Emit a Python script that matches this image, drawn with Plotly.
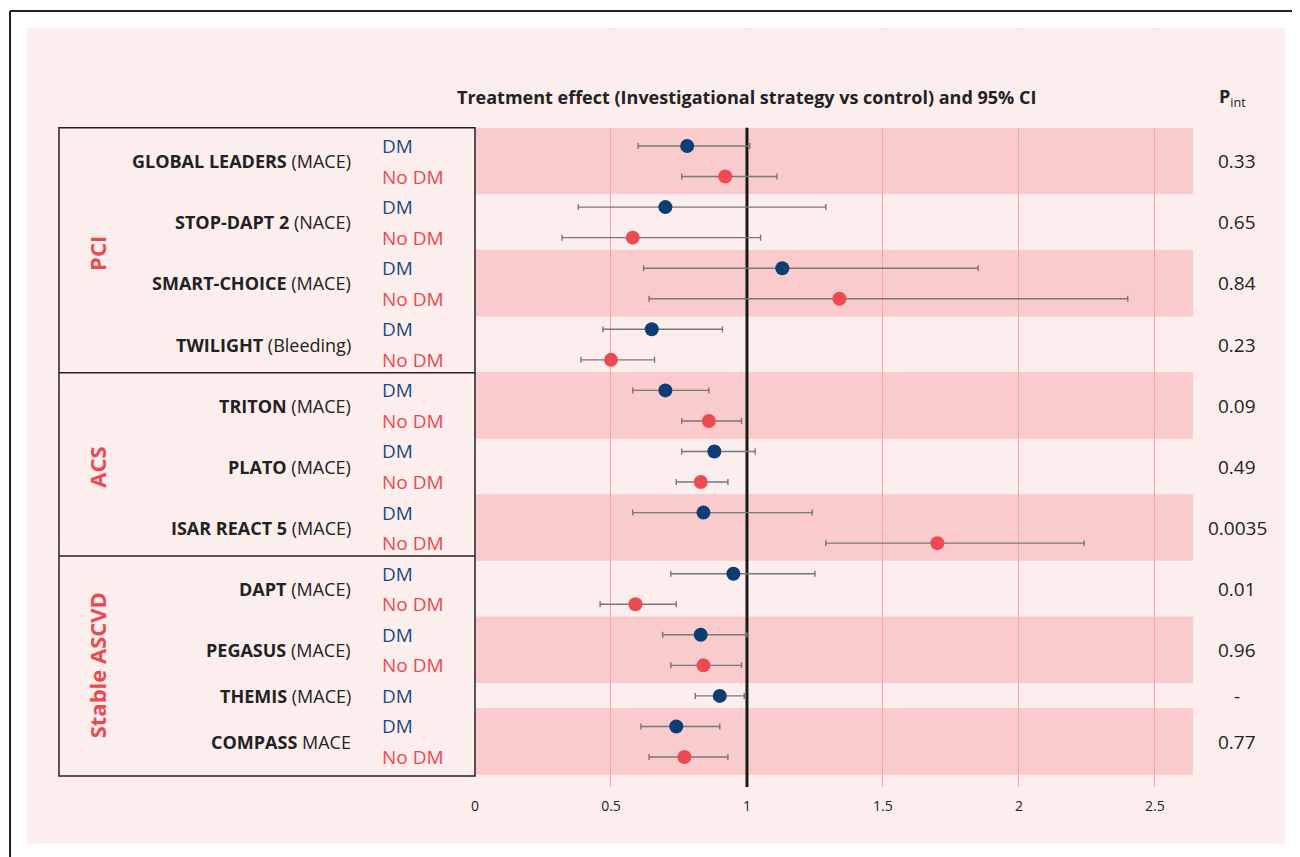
import plotly.graph_objects as go

# ---------------- data ----------------
trials = ["GLOBAL LEADERS", "STOP-DAPT 2", "SMART-CHOICE", "TWILIGHT", "TRITON", "PLATO",
          "ISAR REACT 5", "DAPT", "PEGASUS", "THEMIS", "COMPASS"]
endpoints = ["(MACE)", "(NACE)", "(MACE)", "(Bleeding)", "(MACE)", "(MACE)",
             "(MACE)", "(MACE)", "(MACE)", "(MACE)", "MACE"]
groups = ["PCI", "PCI", "PCI", "PCI", "ACS", "ACS", "ACS",
          "Stable ASCVD", "Stable ASCVD", "Stable ASCVD", "Stable ASCVD"]
p_int = ["0.33", "0.65", "0.84", "0.23", "0.09", "0.49", "0.0035", "0.01", "0.96", "-", "0.77"]

dm_hr = [0.78, 0.70, 1.13, 0.65, 0.70, 0.88, 0.84, 0.95, 0.83, 0.90, 0.74]
dm_lo = [0.60, 0.38, 0.62, 0.47, 0.58, 0.76, 0.58, 0.72, 0.69, 0.81, 0.61]
dm_hi = [1.01, 1.29, 1.85, 0.91, 0.86, 1.03, 1.24, 1.25, 1.00, 0.99, 0.90]

nodm_hr = [0.92, 0.58, 1.34, 0.50, 0.86, 0.83, 1.70, 0.59, 0.84, None, 0.77]
nodm_lo = [0.76, 0.32, 0.64, 0.39, 0.76, 0.74, 1.29, 0.46, 0.72, None, 0.64]
nodm_hi = [1.11, 1.05, 2.40, 0.66, 0.98, 0.93, 2.24, 0.74, 0.98, None, 0.93]

tick_vals = [0, 0.5, 1, 1.5, 2, 2.5]
tick_text = ["0", "0.5", "1", "1.5", "2", "2.5"]

# ---------------- styles ----------------
FONT = "Open Sans"
RED = "#EC4850"
RED_MK = "#EE4A52"
BLUE_TXT = "#1A4A85"
BLUE_MK = "#0E3D74"
BG = "#FDEEEE"
BAND = "#F9CBCD"
GRID = "#F6A2A6"
TXT = "#222222"
XMAX = 2.64
Y_BOTTOM, Y_TOP = 20.982, -3.862

# rows
dm_rows, nodm_rows, centers = [], [], []
r = 0
for i in range(len(trials)):
    dm_rows.append(r)
    r += 1
    if nodm_hr[i] is not None:
        nodm_rows.append(r)
        r += 1
    else:
        nodm_rows.append(None)
    last = nodm_rows[i] if nodm_rows[i] is not None else dm_rows[i]
    centers.append((dm_rows[i] + last) / 2)

fig = go.Figure()

# DM
fig.add_trace(go.Scatter(
    x=dm_hr, y=dm_rows, mode="markers",
    marker=dict(color=BLUE_MK, size=14),
    error_x=dict(type="data", symmetric=False,
                 array=[h - v for h, v in zip(dm_hi, dm_hr)],
                 arrayminus=[v - l for v, l in zip(dm_hr, dm_lo)],
                 color="#777777", thickness=1.4, width=3),
    showlegend=False, hoverinfo="skip"))

# No DM
nx, ny, nhi, nlo = [], [], [], []
for i in range(len(trials)):
    if nodm_hr[i] is not None:
        nx.append(nodm_hr[i]); ny.append(nodm_rows[i])
        nhi.append(nodm_hi[i] - nodm_hr[i]); nlo.append(nodm_hr[i] - nodm_lo[i])
fig.add_trace(go.Scatter(
    x=nx, y=ny, mode="markers",
    marker=dict(color=RED_MK, size=14),
    error_x=dict(type="data", symmetric=False, array=nhi, arrayminus=nlo,
                 color="#777777", thickness=1.4, width=3),
    showlegend=False, hoverinfo="skip"))

shapes = []
# outer pink background
shapes.append(dict(type="rect", xref="paper", yref="paper", x0=-0.624, x1=1.128, y0=-0.0751, y1=1.0,
                   fillcolor=BG, line=dict(width=0), layer="below"))
# outer frame
shapes.append(dict(type="line", xref="paper", yref="paper", x0=-0.6476, x1=1.3, y0=1.0224, y1=1.0224,
                   line=dict(color=TXT, width=2), layer="above"))
shapes.append(dict(type="line", xref="paper", yref="paper", x0=-0.6476, x1=-0.6476, y0=1.0224, y1=-0.3,
                   line=dict(color=TXT, width=2), layer="above"))
# bands
for i in range(0, len(trials), 2):
    last = nodm_rows[i] if nodm_rows[i] is not None else dm_rows[i]
    shapes.append(dict(type="rect", xref="x", yref="y", x0=0, x1=XMAX,
                       y0=dm_rows[i] - 0.6, y1=last + 0.58,
                       fillcolor=BAND, line=dict(width=0), layer="below"))
# cover over title region
shapes.append(dict(type="rect", xref="x", yref="y", x0=0, x1=XMAX, y0=-3.83, y1=-0.6,
                   fillcolor=BG, line=dict(width=0), layer="between"))
# reference line at 1
shapes.append(dict(type="line", xref="x", yref="y", x0=1, x1=1, y0=-0.6, y1=Y_BOTTOM,
                   line=dict(color="#1A1A1A", width=3), layer="between"))
# left box
total_last = r - 1
shapes.append(dict(type="rect", xref="paper", yref="y", x0=-0.5794, x1=0, y0=-0.6, y1=total_last + 0.62,
                   line=dict(color=TXT, width=1.5), fillcolor="rgba(0,0,0,0)", layer="above"))
for i in range(len(trials) - 1):
    if groups[i] != groups[i + 1]:
        last = nodm_rows[i] if nodm_rows[i] is not None else dm_rows[i]
        shapes.append(dict(type="line", xref="paper", yref="y", x0=-0.5794, x1=0,
                           y0=last + 0.42, y1=last + 0.42,
                           line=dict(color=TXT, width=1.5), layer="above"))

ann = []
for i, t in enumerate(trials):
    ann.append(dict(xref="paper", yref="y", x=-0.1699, y=centers[i], xanchor="right", yanchor="middle",
                    text=f"<b>{t}</b> {endpoints[i]}", showarrow=False,
                    font=dict(family=FONT, size=18, color=TXT)))
    ann.append(dict(xref="paper", yref="y", x=-0.1323, y=dm_rows[i], xanchor="left", yanchor="middle",
                    text="DM", showarrow=False, font=dict(family=FONT, size=19, color=BLUE_TXT)))
    if nodm_rows[i] is not None:
        ann.append(dict(xref="paper", yref="y", x=-0.1323, y=nodm_rows[i], xanchor="left", yanchor="middle",
                        text="No DM", showarrow=False, font=dict(family=FONT, size=19, color=RED)))
    ann.append(dict(xref="paper", yref="y", x=1.0613, y=centers[i], xanchor="center", yanchor="middle",
                    text=p_int[i], showarrow=False, font=dict(family=FONT, size=19, color=TXT)))

# group labels
seen = []
for g in groups:
    if g not in seen:
        seen.append(g)
for g in seen:
    idx = [i for i in range(len(trials)) if groups[i] == g]
    first = dm_rows[idx[0]]
    last = nodm_rows[idx[-1]] if nodm_rows[idx[-1]] is not None else dm_rows[idx[-1]]
    ann.append(dict(xref="paper", yref="y", x=-0.5265, y=(first + last) / 2, xanchor="center", yanchor="middle",
                    text=f"<b>{g}</b>", textangle=-90, showarrow=False,
                    font=dict(family=FONT, size=22, color=RED)))

ann.append(dict(xref="x", yref="paper", x=1, y=0.909, xanchor="center", yanchor="middle",
                text="<b>Treatment effect (Investigational strategy vs control) and 95% CI</b>",
                showarrow=False, font=dict(family=FONT, size=18, color=TXT)))
ann.append(dict(xref="paper", yref="paper", x=1.0557, y=0.909, xanchor="center", yanchor="middle",
                text="<b>P</b><sub>int</sub>", showarrow=False, font=dict(family=FONT, size=18, color=TXT)))

fig.update_layout(
    width=1300, height=857,
    margin=dict(l=467, r=115, t=20, b=78),
    paper_bgcolor="white", plot_bgcolor="rgba(0,0,0,0)",
    shapes=shapes, annotations=ann,
    xaxis=dict(range=[0, XMAX], tickvals=tick_vals, ticktext=tick_text,
               showgrid=True, gridcolor=GRID, gridwidth=1, zeroline=False, showline=False,
               ticks="", ticklabelstandoff=9,
               tickfont=dict(family=FONT, size=14, color=TXT)),
    yaxis=dict(range=[Y_BOTTOM, Y_TOP], visible=False, showgrid=False, zeroline=False),
    font=dict(family=FONT),
)

fig.write_html("out.html")
